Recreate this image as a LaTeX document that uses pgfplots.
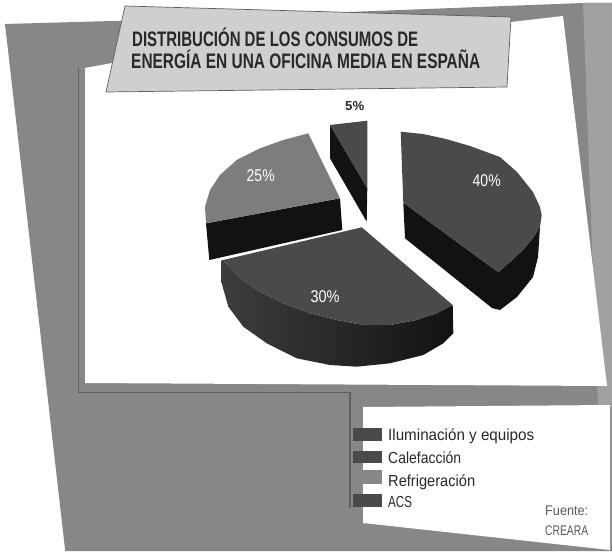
\documentclass[border=0pt]{standalone}
\usepackage{pgfplots}
\usepackage{graphicx}
\usepackage{fontspec}
\pgfplotsset{compat=1.18}
\setmainfont{Liberation Sans}
\definecolor{frame}{gray}{0.53}
\definecolor{band}{gray}{0.63}
\definecolor{rule}{gray}{0.37}
\definecolor{banner}{gray}{0.81}
\definecolor{ink}{gray}{0.16}
\definecolor{slice}{gray}{0.29}
\definecolor{slicelight}{gray}{0.49}
\definecolor{wall}{gray}{0.07}
\newcommand{\wide}[2]{\resizebox{#1pt}{\height}{#2}}
\pgfplotsset{poly/.style={draw=none,forget plot}}
\begin{document}
\begin{tikzpicture}
\begin{axis}[
  width=612pt,height=551pt,scale only axis,
  xmin=0,xmax=612,ymin=0,ymax=551,y dir=reverse,
  axis lines=none,
]
% page background
\addplot[poly,fill=white] coordinates {(0,0) (612,0) (612,551) (0,551)} --cycle;
% outer frame and its lighter right-hand band
\addplot[poly,fill=frame] coordinates {(5,24) (123,20.7) (583,3) (612,3) (612,551) (65,551) (65,549)} --cycle;
\addplot[poly,fill=band] coordinates {(583,3) (612,3) (612,407) (598,407)} --cycle;
% white panels
\addplot[poly,fill=white] coordinates {(85,68) (112,63) (511,22) (563,16) (607,386) (85,383)} --cycle;
\addplot[poly,fill=white] coordinates {(363,407) (610,405) (610,550) (363,523)} --cycle;
% thin rule around the plot area
\addplot[draw=rule,line width=1.3pt,forget plot] coordinates {(78.3,68) (78.3,392.5) (350,392.5) (350,508)};
% title banner
\addplot[fill=banner,draw=rule,line width=0.7pt,forget plot] coordinates {(125,6) (511,17) (507,87) (106,92)} --cycle;

% 30 %: side wall, shaded from left to right, then top face
\addplot[poly,left color=black!76,middle color=black!90,right color=black!93] coordinates {
  (452.7,305) (436.7,313.3) (416.7,320) (390,325) (363.3,325) (336.7,320) (310,313.3) (283.3,303.3) (256.7,290) (236.7,275) (223.3,260)
  (221.7,260) (221.7,283.3) (228.3,306.7) (243.3,326.7) (266.7,343.3) (296.7,358.3) (330,365) (356.7,366.7) (390,363.3) (423.3,355) (443.3,343.3) (453.3,333.3)} --cycle;
\addplot[poly,fill=slice] coordinates {(361.7,227.3) (452.7,305) (436.7,313.3) (416.7,320) (390,325) (363.3,325) (336.7,320) (310,313.3) (283.3,303.3) (256.7,290) (236.7,275) (223.3,260)} --cycle;

% 25 %
\addplot[poly,fill=wall] coordinates {(206,223.3) (340,198.3) (342.3,230) (209.3,260)} --cycle;
\addplot[poly,fill=slicelight] coordinates {(308.3,133.3) (283.3,140) (260,148.3) (236.7,160) (220,175) (210,190) (205,206.7) (206,223.3) (340,198.3)} --cycle;

% 40 %
\addplot[poly,fill=wall] coordinates {(403.3,202.7) (498.3,272.3) (510,262) (523,250) (533,238) (540,227) (538,257) (533,277) (517,297) (500,310) (492,308) (405,238.3)} --cycle;
\addplot[poly,fill=slice] coordinates {(400.7,131.7) (423,134) (446,139) (470,146) (500,157) (517,172) (533,192) (540,207) (541.7,215) (540,227) (533,238) (523,250) (510,262) (498.3,272.3) (403.3,202.7)} --cycle;

% 5 %
\addplot[poly,fill=wall] coordinates {(330,125) (367.3,188.3) (366.7,221.7) (330,158.3)} --cycle;
\addplot[poly,fill=slice] coordinates {(330,125) (367.3,120.7) (367.3,188.3)} --cycle;

% legend keys
\addplot[poly,fill=slice] coordinates {(353,428) (382,428) (382,441) (353,441)} --cycle;
\addplot[poly,fill=slice] coordinates {(353,451) (382,451) (382,463) (353,463)} --cycle;
\addplot[poly,fill=frame] coordinates {(353,470) (382,470) (382,484) (353,484)} --cycle;
\addplot[poly,fill=slice] coordinates {(353,494) (382,494) (382,507) (353,507)} --cycle;

% title
\node[anchor=base west,inner sep=0pt,text=ink] at (axis cs:132,46) {\wide{286}{\fontsize{21}{21}\selectfont\bfseries DISTRIBUCIÓN DE LOS CONSUMOS DE}};
\node[anchor=base west,inner sep=0pt,text=ink] at (axis cs:131,68.5) {\wide{349}{\fontsize{21}{21}\selectfont\bfseries ENERGÍA EN UNA OFICINA MEDIA EN ESPAÑA}};

% slice labels
\node[text=white,font=\fontsize{17}{17}\selectfont] at (axis cs:486.7,181) {\wide{28}{40\%}};
\node[text=white,font=\fontsize{17}{17}\selectfont] at (axis cs:325,297) {\wide{29}{30\%}};
\node[text=white,font=\fontsize{17}{17}\selectfont] at (axis cs:260.7,176) {\wide{28}{25\%}};
\node[text=ink,font=\fontsize{13}{13}\selectfont\bfseries] at (axis cs:354.7,106) {\wide{19}{5\%}};

% legend entries
\node[anchor=base west,inner sep=0pt,text=ink] at (axis cs:388,440.5) {\wide{146}{\fontsize{16}{16}\selectfont Iluminación y equipos}};
\node[anchor=base west,inner sep=0pt,text=ink] at (axis cs:388,463.5) {\wide{73}{\fontsize{16}{16}\selectfont Calefacción}};
\node[anchor=base west,inner sep=0pt,text=ink] at (axis cs:388,486.5) {\wide{87}{\fontsize{16}{16}\selectfont Refrigeración}};
\node[anchor=base west,inner sep=0pt,text=ink] at (axis cs:388,507.5) {\wide{24}{\fontsize{16}{16}\selectfont ACS}};
\node[anchor=base west,inner sep=0pt,text=black!65] at (axis cs:545,515) {\wide{43}{\fontsize{14}{14}\selectfont Fuente:}};
\node[anchor=base west,inner sep=0pt,text=black!65] at (axis cs:545,535) {\wide{43}{\fontsize{14}{14}\selectfont CREARA}};
\end{axis}
\end{tikzpicture}
\end{document}
